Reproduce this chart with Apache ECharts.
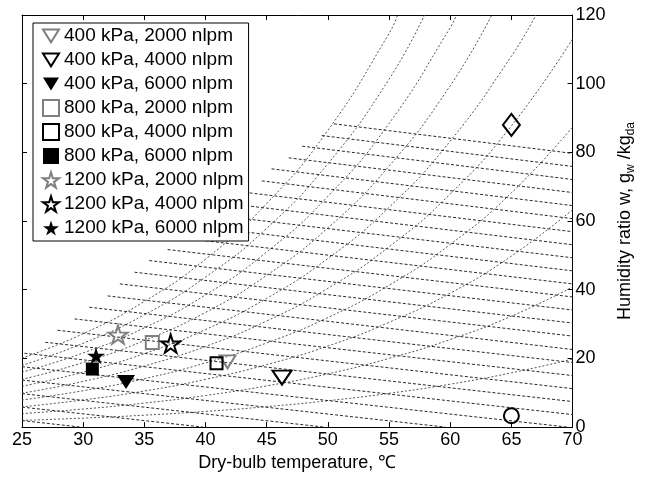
<!DOCTYPE html>
<html>
<head>
<meta charset="utf-8">
<script src="https://cdn.jsdelivr.net/npm/echarts@6/dist/echarts.min.js"></script>
<style>
  html, body { margin: 0; padding: 0; background: #fff; }
  #chart { width: 645px; height: 477px; }
</style>
</head>
<body>
<div id="chart"></div>
<script>
// relative humidity curves, 10% .. 100%  [temperature, g/kg]
const rh10 = [[25, 1.95], [30, 2.62], [35, 3.47], [40, 4.57], [45, 5.95], [50, 7.68], [55, 9.83], [60, 12.5], [65, 15.8], [70, 19.8]];
const rh20 = [[25, 3.92], [30, 5.26], [35, 6.99], [40, 9.2], [45, 12.0], [50, 15.5], [55, 20.0], [60, 25.5], [65, 32.3], [70, 40.8]];
const rh30 = [[25, 5.89], [30, 7.92], [35, 10.5], [40, 13.9], [45, 18.2], [50, 23.6], [55, 30.5], [60, 39.0], [65, 49.8], [70, 63.3]];
const rh40 = [[25, 7.88], [30, 10.6], [35, 14.1], [40, 18.7], [45, 24.5], [50, 31.9], [55, 41.3], [60, 53.2], [65, 68.2], [70, 87.4]];
const rh50 = [[25, 9.88], [30, 13.3], [35, 17.8], [40, 23.5], [45, 30.9], [50, 40.4], [55, 52.5], [60, 67.9], [65, 87.7], [70, 113]];
const rh60 = [[25, 11.9], [30, 16.0], [35, 21.4], [40, 28.4], [45, 37.5], [50, 49.1], [55, 64.0], [60, 83.3], [65, 108], [67, 120]];
const rh70 = [[25, 13.9], [30, 18.8], [35, 25.2], [40, 33.4], [45, 44.2], [50, 58.0], [55, 76.0], [60, 99.4], [63.4, 120]];
const rh80 = [[25, 16.0], [30, 21.6], [35, 28.9], [40, 38.5], [45, 51.0], [50, 67.2], [55, 88.4], [60, 116.3], [60.5, 120]];
const rh90 = [[25, 18.0], [30, 24.4], [35, 32.7], [40, 43.7], [45, 57.9], [50, 76.7], [55, 101.3], [57.9, 120]];
const rh100 = [[25, 20.1], [30, 27.2], [35, 36.6], [40, 48.9], [45, 65.1], [50, 86.4], [55, 114.6], [55.7, 120]];
const rhCurves = [rh10, rh20, rh30, rh40, rh50, rh60, rh70, rh80, rh90, rh100];

// enthalpy lines 30 .. 280 kJ/kg, start and end points
const enthalpyStartT = [25, 25, 25, 25, 25, 25.2, 26.9, 27.9, 29.3, 30.5, 32.0, 33.0, 34.2, 35.4, 36.9, 38.0, 39.3, 40.6, 42.1, 43.6, 44.6, 45.4, 46.8, 47.9, 49.5, 50.5];
const enthalpyStartW = [1.90, 5.83, 9.75, 13.7, 17.6, 21.5, 24.7, 28.2, 31.5, 34.9, 38.2, 41.7, 45.1, 48.5, 51.7, 55.1, 58.5, 61.8, 65.0, 68.2, 71.7, 75.2, 78.4, 81.8, 84.9, 88.3];
const enthalpyEndT = [29.8, 39.8, 49.7, 59.6, 69.6, 70, 70, 70, 70, 70, 70, 70, 70, 70, 70, 70, 70, 70, 70, 70, 70, 70, 70, 70, 70, 70];
const enthalpyEndW = [0, 0, 0, 0, 0, 3.64, 7.44, 11.2, 15.0, 18.8, 22.6, 26.5, 30.3, 34.1, 37.9, 41.7, 45.5, 49.3, 53.1, 56.9, 60.7, 64.5, 68.3, 72.1, 75.9, 79.7];

// measured points
const caseNames = ['400 kPa, 2000 nlpm', '400 kPa, 4000 nlpm', '400 kPa, 6000 nlpm',
  '800 kPa, 2000 nlpm', '800 kPa, 4000 nlpm', '800 kPa, 6000 nlpm',
  '1200 kPa, 2000 nlpm', '1200 kPa, 4000 nlpm', '1200 kPa, 6000 nlpm'];
const caseTemp = [41.8, 46.25, 33.5, 35.65, 40.9, 30.75, 32.85, 37.15, 31.05];
const caseHumidity = [19.0, 14.4, 13.1, 24.6, 18.6, 16.9, 26.9, 24.3, 20.8];
const inletPoint = [65, 3.3];
const outletPoint = [65, 88];

const xTicks = [25, 70, 5];
const yTicks = [0, 120, 20];

const FONT = '"Liberation Sans", Arial, sans-serif';
const GRAY = '#808080';
const triDown = 'path://M0,0 L20,0 L10,16 Z';
const star = 'path://M50,0 L61,35 L98,35 L68,57 L79,91 L50,70 L21,91 L32,57 L2,35 L39,35 Z';
const square = 'path://M0,0 L10,0 L10,10 L0,10 Z';

const markerStyle = [
  { symbol: triDown, size: [16, 13], color: 'rgba(0,0,0,0)', border: GRAY },
  { symbol: triDown, size: [19, 14], color: 'rgba(0,0,0,0)', border: '#000' },
  { symbol: triDown, size: [18, 14], color: '#000', border: '#000' },
  { symbol: square, size: [13, 13], color: 'rgba(0,0,0,0)', border: GRAY },
  { symbol: square, size: [12, 12], color: 'rgba(0,0,0,0)', border: '#000' },
  { symbol: square, size: [13, 13], color: '#000', border: '#000' },
  { symbol: star, size: [19, 18], color: 'rgba(0,0,0,0)', border: GRAY },
  { symbol: star, size: [19, 18], color: 'rgba(0,0,0,0)', border: '#000' },
  { symbol: star, size: [18, 17], color: '#000', border: '#000' },
];

const series = [];
rhCurves.forEach(c => {
  series.push({
    type: 'line', data: c, smooth: true, symbol: 'none', silent: true,
    lineStyle: { color: '#555', width: 1, type: [2, 2] }, z: 1
  });
});
enthalpyStartT.forEach((t, i) => {
  series.push({
    type: 'line', data: [[t, enthalpyStartW[i]], [enthalpyEndT[i], enthalpyEndW[i]]],
    symbol: 'none', silent: true,
    lineStyle: { color: '#2a2a2a', width: 1, type: [3, 2] }, z: 1
  });
});
caseNames.forEach((name, i) => {
  const m = markerStyle[i];
  series.push({
    name: name, type: 'scatter', data: [[caseTemp[i], caseHumidity[i]]],
    symbol: m.symbol, symbolSize: m.size, symbolKeepAspect: false,
    itemStyle: { color: m.color, borderColor: m.border, borderWidth: m.color === '#000' ? 0 : 2, opacity: 1 },
    z: 5
  });
});
series.push({
  type: 'scatter', data: [outletPoint], symbol: 'diamond', symbolSize: [17, 22],
  itemStyle: { color: 'rgba(0,0,0,0)', borderColor: '#000', borderWidth: 2, opacity: 1 }, z: 5
});
series.push({
  type: 'scatter', data: [inletPoint], symbol: 'circle', symbolSize: 15,
  itemStyle: { color: 'rgba(0,0,0,0)', borderColor: '#000', borderWidth: 2, opacity: 1 }, z: 5
});

const axisCommon = {
  axisLine: { onZero: false, lineStyle: { color: '#000', width: 1 } },
  axisTick: { inside: true, length: 5, lineStyle: { color: '#000' } },
  splitLine: { show: false },
};

const chart = echarts.init(document.getElementById('chart'));
chart.setOption({
  animation: false,
  backgroundColor: '#fff',
  grid: { left: 22, right: 71, top: 15, bottom: 44 },
  legend: {
    data: caseNames,
    orient: 'vertical',
    left: 33, top: 23,
    padding: [3, 5, 3, 9],
    itemGap: 4,
    itemWidth: 16, itemHeight: 16,
    backgroundColor: '#fff',
    borderColor: '#000', borderWidth: 1,
    textStyle: { fontSize: 19, fontFamily: FONT, color: '#000', lineHeight: 20 }
  },
  xAxis: [
    Object.assign({}, axisCommon, {
      type: 'value', position: 'bottom', min: xTicks[0], max: xTicks[1], interval: xTicks[2],
      axisLabel: { fontSize: 18, fontFamily: FONT, color: '#000', margin: 4 },
      name: 'Dry-bulb temperature, ℃', nameLocation: 'middle', nameGap: 24,
      nameTextStyle: { fontSize: 18, fontFamily: FONT, color: '#000' }
    }),
    Object.assign({}, axisCommon, {
      type: 'value', position: 'top', min: xTicks[0], max: xTicks[1], interval: xTicks[2],
      axisLabel: { show: false }
    })
  ],
  yAxis: [
    Object.assign({}, axisCommon, {
      type: 'value', position: 'right', min: yTicks[0], max: yTicks[1], interval: yTicks[2],
      axisLabel: { fontSize: 18, fontFamily: FONT, color: '#000', margin: 3 },
      name: '{m|Humidity ratio w, g}{s|w}{m| /kg}{s|da}',
      nameLocation: 'middle', nameRotate: 90, nameGap: 38,
      nameTextStyle: {
        rich: {
          m: { fontSize: 18, fontFamily: FONT, color: '#000' },
          s: { fontSize: 12, fontFamily: FONT, color: '#000', padding: [11, 0, 0, 0] }
        }
      }
    }),
    Object.assign({}, axisCommon, {
      type: 'value', position: 'left', min: yTicks[0], max: yTicks[1], interval: yTicks[2],
      axisLabel: { show: false }
    })
  ],
  series: series
});
</script>
</body>
</html>
